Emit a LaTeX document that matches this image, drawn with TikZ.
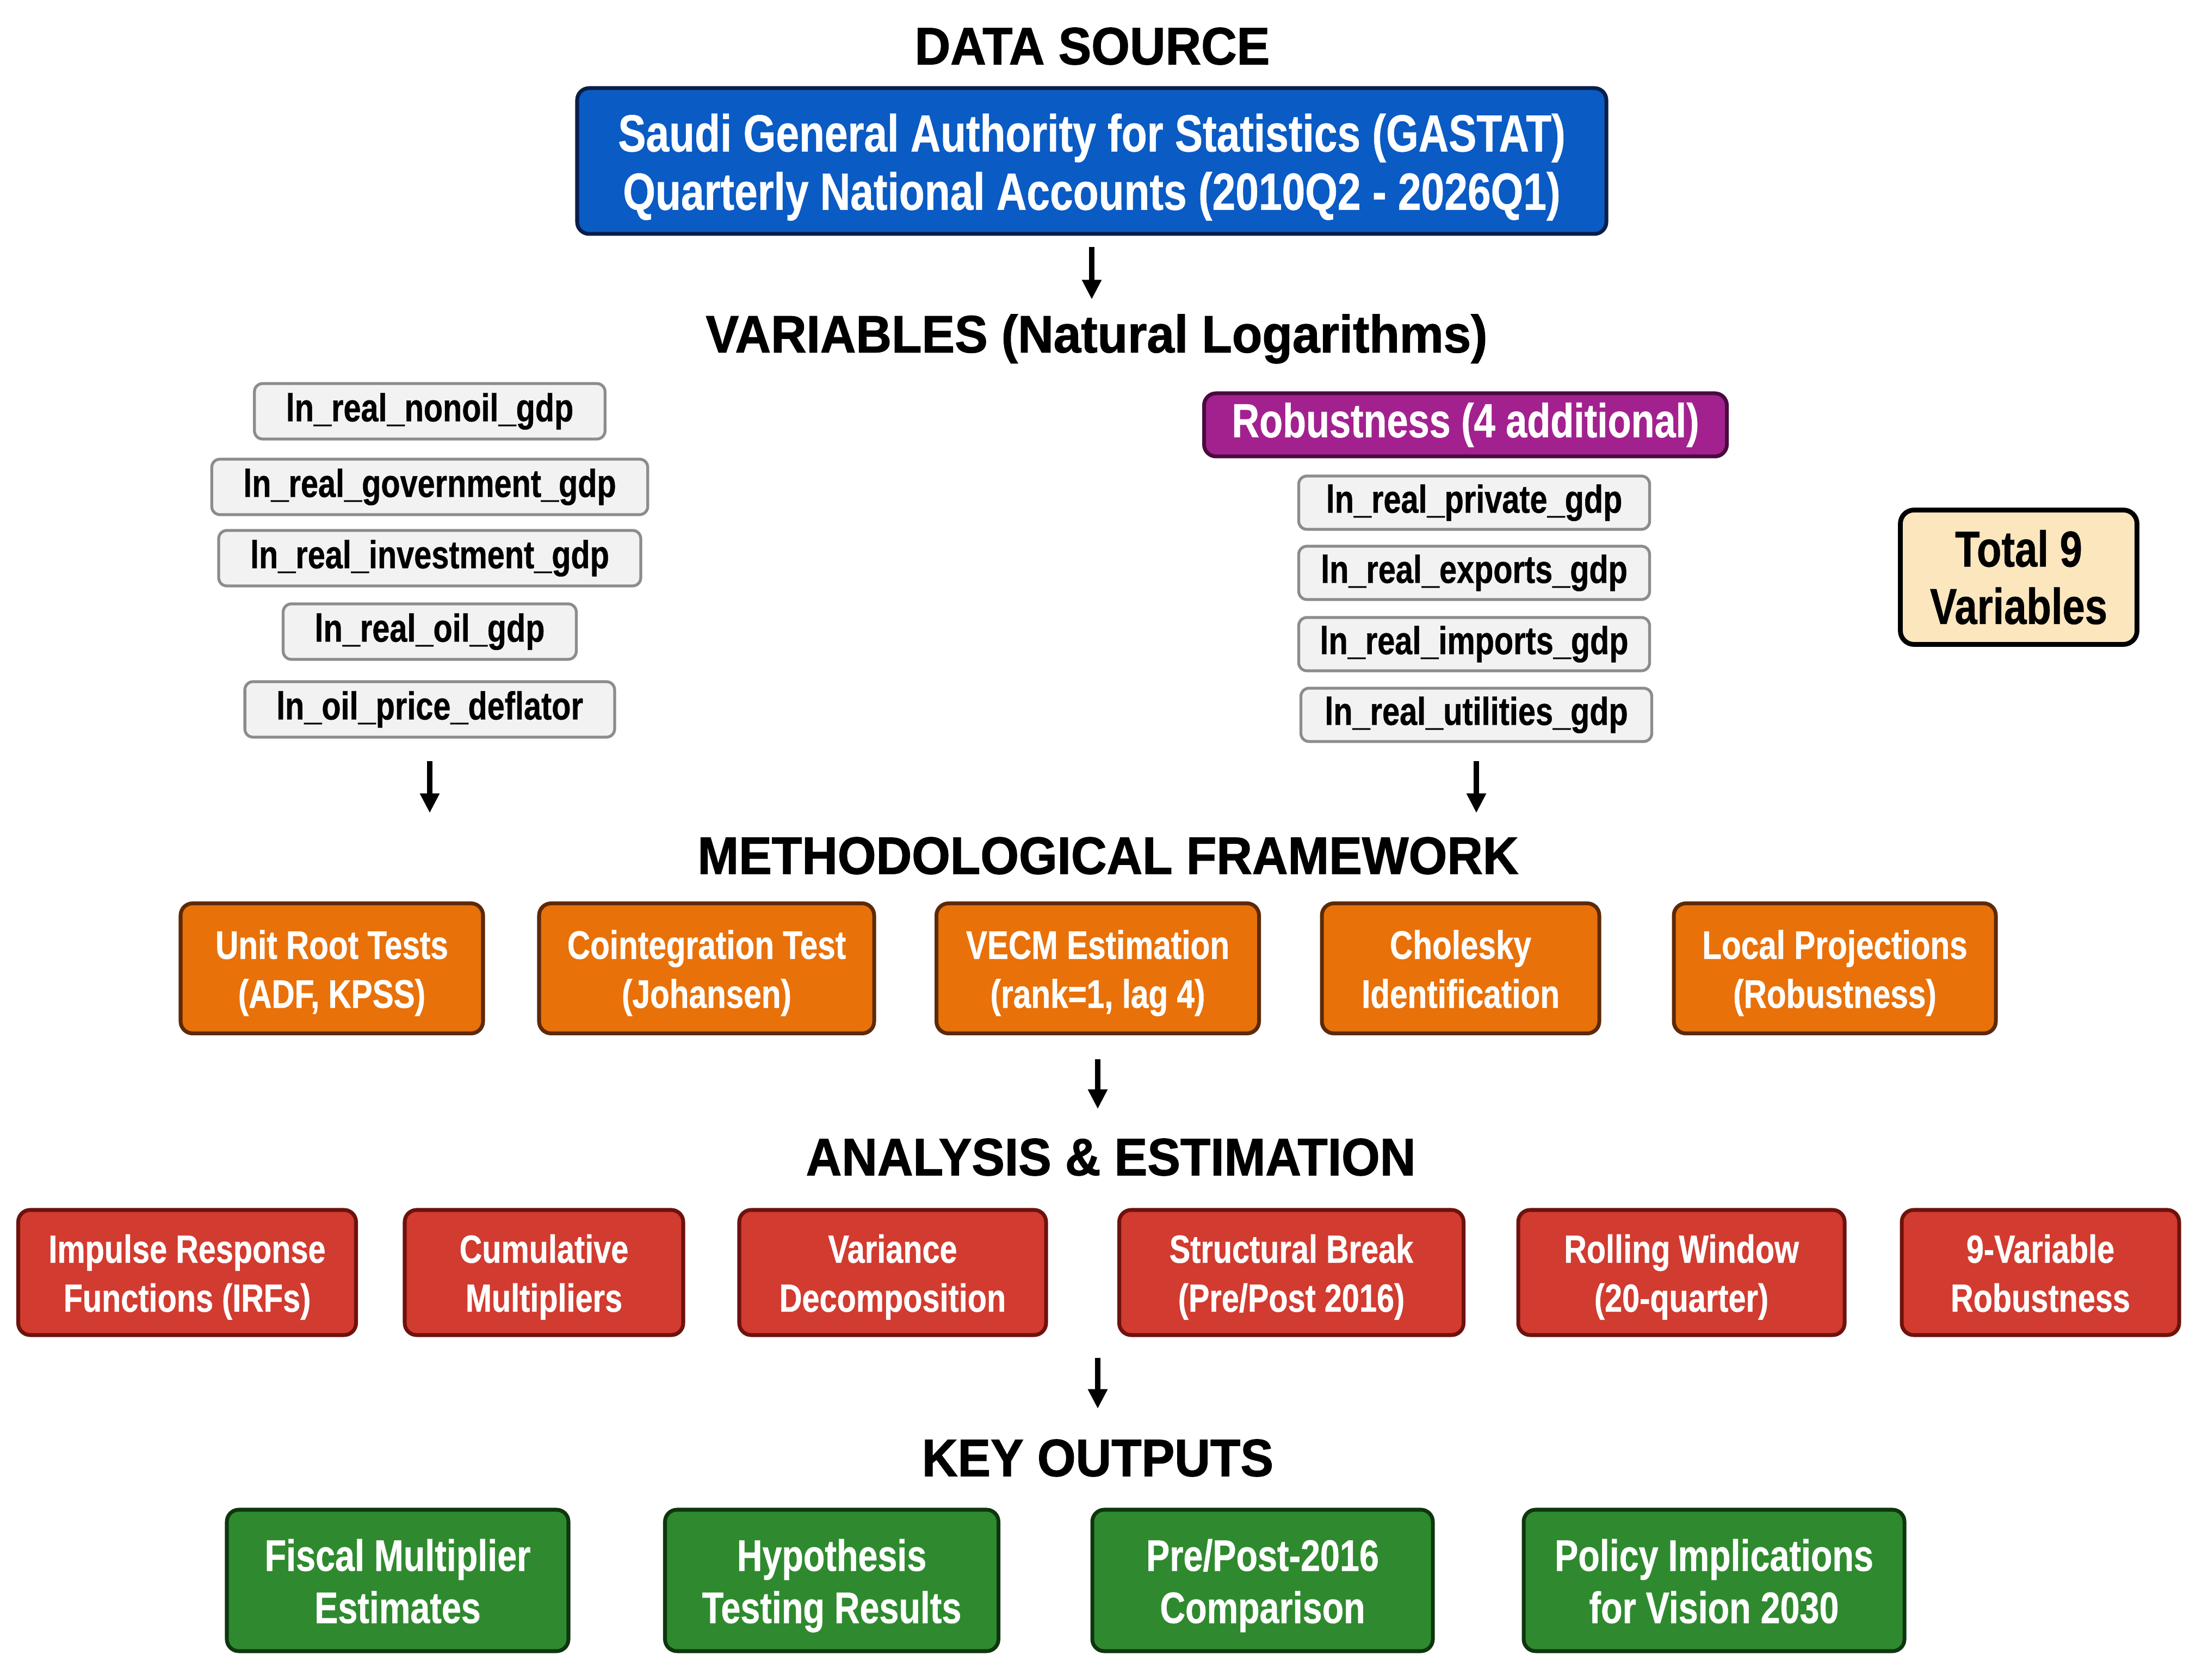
\documentclass[tikz,border=0pt]{standalone}
\usepackage{fontspec}
\setmainfont{Liberation Sans}
\newfontfamily\boxfont{Liberation Sans}[FakeStretch=0.8, FakeBold=0.6]
\newfontfamily\headfont{Liberation Sans}[FakeStretch=0.94, FakeBold=1.2]
\usetikzlibrary{arrows.meta}
\definecolor{srcblue}{HTML}{0A5BC4}
\definecolor{srcedge}{HTML}{0B1E48}
\definecolor{robpurple}{HTML}{A3218F}
\definecolor{robedge}{HTML}{4A0A40}
\definecolor{methorange}{HTML}{E8710A}
\definecolor{methedge}{HTML}{5C2A08}
\definecolor{anared}{HTML}{D23B30}
\definecolor{anaedge}{HTML}{6E120E}
\definecolor{outgreen}{HTML}{2F8A2F}
\definecolor{outedge}{HTML}{0F360F}
\definecolor{varfill}{HTML}{F2F2F2}
\definecolor{varedge}{HTML}{8C8C8C}
\definecolor{totbeige}{HTML}{FBE6BE}
% 两行文字（上方留空使文字略低于中心）
\newcommand{\twolines}[2]{\rule{0pt}{0.97em}#1\\#2\rule[-0.22em]{0pt}{0.22em}}

\begin{document}
\begin{tikzpicture}[
    flow/.style={-{Triangle[length=0.36cm,width=0.34cm]}, line width=3pt},
    head/.style={font=\headfont\bfseries\fontsize{27.5}{30}\selectfont},
    box/.style={rounded corners=0.22cm, line width=2pt, align=center, text=white, inner sep=0pt},
    srcbox/.style={box, fill=srcblue, draw=srcedge, font=\boxfont\bfseries\fontsize{27.3}{30.5}\selectfont},
    robbox/.style={box, fill=robpurple, draw=robedge, font=\boxfont\bfseries\fontsize{25}{28}\selectfont},
    methbox/.style={box, fill=methorange, draw=methedge, minimum height=2.39cm, font=\boxfont\bfseries\fontsize{20.8}{25.6}\selectfont},
    anabox/.style={box, fill=anared, draw=anaedge, minimum height=2.30cm, font=\boxfont\bfseries\fontsize{20.5}{25.6}\selectfont},
    outbox/.style={box, fill=outgreen, draw=outedge, minimum height=2.60cm, font=\boxfont\bfseries\fontsize{23}{27.3}\selectfont},
    varbox/.style={rounded corners=0.15cm, draw=varedge, line width=1.5pt, fill=varfill, inner xsep=0.58cm, inner ysep=0pt, minimum height=1.02cm,
        text height=0.53cm, text depth=0.16cm, font=\boxfont\bfseries\fontsize{20.5}{24}\selectfont},
    rvarbox/.style={varbox, inner xsep=0.3cm, minimum width=6.45cm, minimum height=0.98cm},
    totbox/.style={rounded corners=0.25cm, draw=black, line width=2.5pt, fill=totbeige, align=center, font=\boxfont\bfseries\fontsize{26.4}{30}\selectfont}
]
    % 画布
    \path[fill=white, use as bounding box] (0,0) rectangle (40.37,30.88);

    % 数据来源
    \node[head] (srctitle) at (20.08,30.03) {DATA SOURCE};
    \node[srcbox, minimum width=18.92cm, minimum height=2.68cm] (gastat) at (20.07,27.92)
        {\twolines{Saudi General Authority for Statistics (GASTAT)}{Quarterly National Accounts (2010Q2 - 2026Q1)}};

    % 变量
    \node[head] (vartitle) at (20.16,24.65) {VARIABLES (Natural Logarithms)};
    \node[varbox] (nonoil) at (7.90,23.32) {ln\_real\_nonoil\_gdp};
    \node[varbox] (gov) at (7.90,21.93) {ln\_real\_government\_gdp};
    \node[varbox] (inv) at (7.90,20.62) {ln\_real\_investment\_gdp};
    \node[varbox] (oil) at (7.90,19.27) {ln\_real\_oil\_gdp};
    \node[varbox] (deflator) at (7.90,17.84) {ln\_oil\_price\_deflator};

    % 稳健性变量
    \node[robbox, minimum width=9.61cm, minimum height=1.16cm] (robust) at (26.94,23.07) {Robustness (4 additional)};
    \node[rvarbox] (private) at (27.10,21.64) {ln\_real\_private\_gdp};
    \node[rvarbox] (exports) at (27.10,20.35) {ln\_real\_exports\_gdp};
    \node[rvarbox] (imports) at (27.10,19.04) {ln\_real\_imports\_gdp};
    \node[rvarbox] (utilities) at (27.14,17.74) {ln\_real\_utilities\_gdp};

    \node[totbox, minimum width=4.35cm, minimum height=2.47cm] (total) at (37.11,20.27) {Total 9\\Variables};

    % 方法框架
    \node[head] (methtitle) at (20.37,15.15) {METHODOLOGICAL FRAMEWORK};
    \node[methbox, minimum width=5.56cm] (unitroot) at (6.10,13.08) {\twolines{Unit Root Tests}{(ADF, KPSS)}};
    \node[methbox, minimum width=6.16cm] (coint) at (12.99,13.08) {\twolines{Cointegration Test}{(Johansen)}};
    \node[methbox, minimum width=5.93cm] (vecm) at (20.18,13.08) {\twolines{VECM Estimation}{(rank=1, lag 4)}};
    \node[methbox, minimum width=5.10cm] (cholesky) at (26.85,13.08) {\twolines{Cholesky}{Identification}};
    \node[methbox, minimum width=5.92cm] (localproj) at (33.73,13.08) {\twolines{Local Projections}{(Robustness)}};

    % 分析与估计
    \node[head] (anatitle) at (20.42,9.61) {ANALYSIS \& ESTIMATION};
    \node[anabox, minimum width=6.21cm] (irf) at (3.44,7.49) {\twolines{Impulse Response}{Functions (IRFs)}};
    \node[anabox, minimum width=5.12cm] (cumul) at (10.00,7.49) {\twolines{Cumulative}{Multipliers}};
    \node[anabox, minimum width=5.64cm] (vardec) at (16.41,7.49) {\twolines{Variance}{Decomposition}};
    \node[anabox, minimum width=6.33cm] (sbreak) at (23.74,7.49) {\twolines{Structural Break}{(Pre/Post 2016)}};
    \node[anabox, minimum width=6.00cm] (rolling) at (30.91,7.49) {\twolines{Rolling Window}{(20-quarter)}};
    \node[anabox, minimum width=5.10cm] (ninevar) at (37.51,7.49) {\twolines{9-Variable}{Robustness}};

    % 主要输出
    \node[head] (keytitle) at (20.18,4.08) {KEY OUTPUTS};
    \node[outbox, minimum width=6.28cm] (fiscal) at (7.31,1.83) {\twolines{Fiscal Multiplier}{Estimates}};
    \node[outbox, minimum width=6.13cm] (hypo) at (15.29,1.83) {\twolines{Hypothesis}{Testing Results}};
    \node[outbox, minimum width=6.26cm] (prepost) at (23.21,1.83) {\twolines{Pre/Post-2016}{Comparison}};
    \node[outbox, minimum width=7.00cm] (policy) at (31.51,1.83) {\twolines{Policy Implications}{for Vision 2030}};

    % 箭头
    \draw[flow, shorten <=0.21cm, shorten >=0.15cm] (gastat.south) -- (gastat.south |- vartitle.north);
    \draw[flow, shorten <=0.41cm, shorten >=0.32cm] (deflator.south) -- (deflator.south |- methtitle.north);
    \draw[flow, shorten <=0.33cm, shorten >=0.32cm] (utilities.south) -- (utilities.south |- methtitle.north);
    \draw[flow, shorten <=0.44cm, shorten >=0.42cm] (vecm.south) -- (vecm.south |- anatitle.north);
    \draw[flow, shorten <=0.38cm, shorten >=0.44cm] (keytitle.north |- irf.south) -- (keytitle.north);
\end{tikzpicture}
\end{document}
